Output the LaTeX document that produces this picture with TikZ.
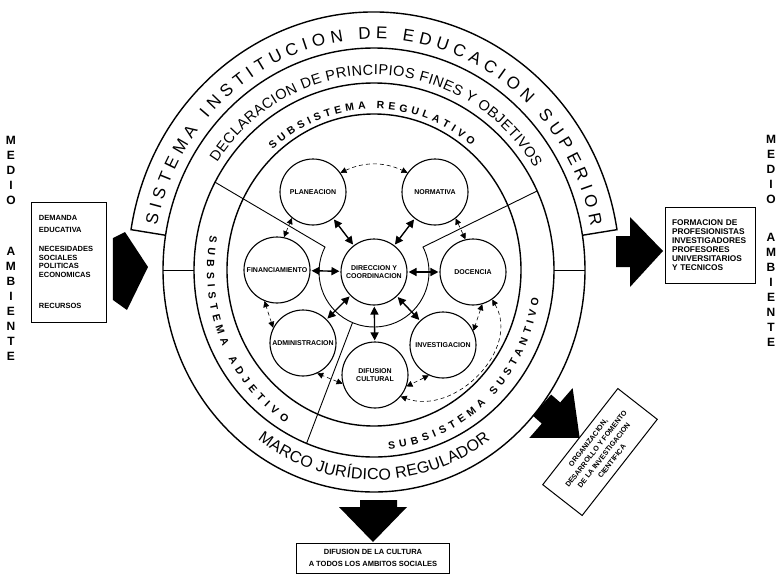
\documentclass[tikz,border=0pt]{standalone}
\usepackage{fontspec}
\setmainfont{Liberation Sans}
\usetikzlibrary{arrows.meta,decorations.text}
\newcommand\letrasistema{\fontsize{17}{20}\selectfont}
\newcommand\letradeclaracion{\fontsize{14.5}{17}\selectfont}
\newcommand\letrasub{\fontsize{10.5}{12}\selectfont\bfseries}
\newcommand\letramarco{\fontsize{16}{18}\selectfont}
\tikzset{
anillo/.style={line width=1.4pt},
radial/.style={line width=0.9pt},
circulo/.style={circle,draw,line width=1.1pt,minimum size=66pt,inner sep=0pt,align=center,font=\fontsize{7}{8.5}\selectfont\bfseries},
doble/.style={{Triangle[length=8pt,width=8pt]}-{Triangle[length=8pt,width=8pt]},line width=1.4pt,shorten >=1pt,shorten <=1pt},
punteada/.style={{Triangle[length=6pt,width=6pt]}-{Triangle[length=6pt,width=6pt]},semithick,dash pattern=on 4pt off 3pt},
caja/.style={draw,line width=1pt,inner sep=7pt,align=left,font=\fontsize{7.5}{8.5}\selectfont\bfseries},
medio/.style={align=center,font=\fontsize{12}{15}\selectfont\bfseries},
flecha/.style={fill=black},
rotulo/.style={decorate,decoration={text along path,text align=fit to path,text={#1}}}}

\begin{document}
\begin{tikzpicture}[x=1pt,y=1pt,inner sep=1pt]

\useasboundingbox (-374,-304) rectangle (407,270);

% anillos
\draw[anillo] (0,0) ellipse [x radius=147,y radius=156];
\draw[anillo] (0,0) ellipse [x radius=180,y radius=187];
\draw[anillo] (0,0) ellipse [x radius=211,y radius=222];
\draw[anillo] (171:211 and 222) -- (171:246 and 258) arc[start angle=171,end angle=9,x radius=246,y radius=258] -- (9:211 and 222);
\draw[radial] (180:180 and 187) -- (180:211 and 222);
\draw[radial] (0:180 and 187) -- (0:211 and 222);

% subsistemas
\node[circulo] (dir) at (0,-2) {DIRECCION Y\\COORDINACION};
\node[circulo] (plan) at (-61,78) {PLANEACION};
\node[circulo] (norm) at (61,78) {NORMATIVA};
\node[circulo] (fin) at (-97,0) {FINANCIAMIENTO};
\node[circulo] (doc) at (99,-2) {DOCENCIA};
\node[circulo] (adm) at (-71,-73) {ADMINISTRACION};
\node[circulo] (inv) at (69,-75) {INVESTIGACION};
\node[circulo] (dif) at (1,-105) {DIFUSION\\CULTURAL};

\draw[radial] (152:180 and 187) -- ([shift={(153:55)}]dir.center) arc[start angle=153,end angle=387,radius=55] -- (25:180 and 187);
\draw[radial] ([shift={(247:55)}]dir.center) -- (248:180 and 187);

\path[doble] (dir) edge (plan);
\path[doble] (dir) edge (norm);
\path[doble] (dir) edge (fin);
\path[doble] (dir) edge (doc);
\path[doble] (dir) edge (adm);
\path[doble] (dir) edge (inv);
\path[doble] (dir) edge (dif);

\path[punteada] (plan.35) edge[bend left=25] (norm.145);
\path[punteada] (norm.-52) edge (doc.103);
\path[punteada] (doc.-74) edge (inv.25);
\path[punteada] (inv.-115) edge (dif.-20);
\path[punteada] (dif.195) edge (adm.-65);
\path[punteada] (adm.153) edge (fin.248);
\path[punteada] (fin.78) edge (plan.231);
\path[punteada] (dif.-40) edge[out=-20,in=-60,looseness=1.1] (doc.-55);

% textos de los anillos
\path[rotulo={|\letrasistema|SISTEMA INSTITUCION DE EDUCACION SUPERIOR}] (169:221 and 231) arc[start angle=169,end angle=11,x radius=221,y radius=231];
\path[rotulo={|\letradeclaracion|DECLARACION DE PRINCIPIOS FINES Y OBJETIVOS}] (146.5:188 and 195) arc[start angle=146.5,end angle=31.5,x radius=188,y radius=195];
\path[rotulo={|\letrasub|SUBSISTEMA REGULATIVO}] (131.5:153 and 161) arc[start angle=131.5,end angle=50.5,x radius=153,y radius=161];
\path[rotulo={|\letrasub|SUBSISTEMA ADJETIVO}] (169:167 and 180) arc[start angle=169,end angle=238,x radius=167,y radius=180];
\path[rotulo={|\letrasub|SUBSISTEMA SUSTANTIVO}] (275:167 and 180) arc[start angle=275,end angle=351,x radius=167,y radius=180];
\path[rotulo={|\letramarco|MARCO JURÍDICO REGULADOR}] (234:198 and 210) arc[start angle=234,end angle=306,x radius=198,y radius=210];

% flechas grandes
\fill[flecha] (-261,32) -- (-249,38) -- (-226,3) -- (-247,-40) -- (-261,-30) -- cycle;
\fill[flecha] (242,34) -- (256,34) -- (256,53) -- (289,19) -- (256,-17) -- (256,3) -- (242,3) -- cycle;
\fill[flecha] (-14,-230) -- (23,-230) -- (23,-237) -- (33,-237) -- (-1,-272) -- (-35,-237) -- (-14,-237) -- cycle;
\fill[flecha,shift={(177,-143)},rotate=-41] (-12,14) -- (0,14) -- (0,33) -- (38,0) -- (0,-33) -- (0,-14) -- (-12,-14) -- cycle;

% cajas
\node[caja,text width=61pt,minimum height=120pt] (entrada) at (-304.5,8) {DEMANDA\\[3pt]EDUCATIVA\\[11pt]NECESIDADES\\SOCIALES\\POLITICAS\\ECONOMICAS\\[23pt]RECURSOS};
\node[caja,text width=76pt,minimum height=76pt,font=\fontsize{8.3}{9}\selectfont\bfseries] (salida) at (336,25) {FORMACION DE\\PROFESIONISTAS\\INVESTIGADORES\\PROFESORES\\UNIVERSITARIOS\\Y TECNICOS};
\node[caja,align=center,inner sep=2pt,minimum width=153pt,minimum height=30pt,font=\fontsize{7.5}{12}\selectfont\bfseries] (cultura) at (-1,-288) {DIFUSION DE LA CULTURA\\A TODOS LOS AMBITOS SOCIALES};
\node[caja,align=center,inner sep=2pt,rotate=52,minimum width=122pt,minimum height=50pt,font=\fontsize{7.2}{10}\selectfont\bfseries] (organizacion) at (226,-182) {ORGANIZACION,\\DESARROLLO Y FOMENTO\\DE LA INVESTIGACION\\CIENTIFICA};

% medio ambiente
\node[medio] (medioizq) at (-363,22) {M\\E\\D\\I\\O\\[36pt]A\\M\\B\\I\\E\\N\\T\\E};
\node[medio] (medioder) at (397,29) {M\\E\\D\\I\\O\\[23pt]A\\M\\B\\I\\E\\N\\T\\E};

\end{tikzpicture}
\end{document}
